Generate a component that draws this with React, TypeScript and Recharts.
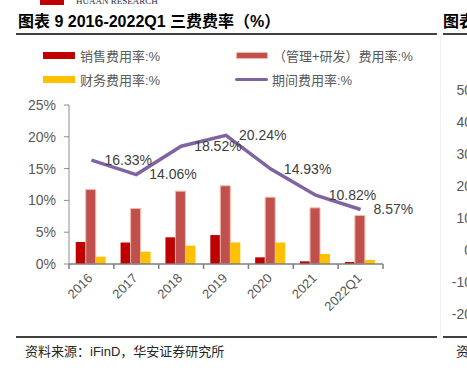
import { ComposedChart, Bar, Line, XAxis, YAxis } from "recharts";

const categories = ["2016", "2017", "2018", "2019", "2020", "2021", "2022Q1"];
// 销售费用率
const salesRate = [3.46, 3.4, 4.2, 4.55, 1.05, 0.42, 0.31];
// （管理+研发）费用率
const mgmtRdRate = [11.7, 8.72, 11.45, 12.3, 10.5, 8.83, 7.62];
// 财务费用率
const financeRate = [1.15, 1.94, 2.87, 3.39, 3.38, 1.57, 0.64];
// 期间费用率
const periodRate = [16.33, 14.06, 18.52, 20.24, 14.93, 10.82, 8.57];

const yTicks = [0, 5, 10, 15, 20, 25];
// 右侧被截断的相邻图表刻度
const sideTicks = ["50", "40", "30", "20", "10", "0", "-10", "-20"];

const FONT = '"Liberation Sans", Arial, "Noto Sans CJK SC", sans-serif';
const GRAY = "#595959";

const rows = categories.map((c, i) => ({
  cat: c,
  sales: salesRate[i],
  mgmt: mgmtRdRate[i],
  fin: financeRate[i],
  period: periodRate[i],
}));

/** X 轴刻度：刻度线在类目边界，文字倾斜 45° */
function XTick(props: any) {
  const { x, y, payload, index, visibleTicksCount } = props;
  const half = payload?.offset ?? 22.4;
  const last = index === visibleTicksCount - 1;
  return (
    <g>
      <line x1={x - half} x2={x - half} y1={y} y2={y + 5} stroke="#7f7f7f" strokeWidth={1.5} />
      {last && <line x1={x + half} x2={x + half} y1={y} y2={y + 5} stroke="#7f7f7f" strokeWidth={1.5} />}
      <text
        transform={`translate(${x + 2},${y + 15}) rotate(-45)`}
        textAnchor="end"
        fontSize={13}
        fill={GRAY}
        fontFamily={FONT}
      >
        {payload.value}
      </text>
    </g>
  );
}

function renderPeriodLabel(p: any) {
  const { x, y, value } = p;
  return (
    <text x={x + 13} y={y} dy="0.35em" fontSize={14} fill="#404040" fontFamily={FONT}>
      {Number(value).toFixed(2)}%
    </text>
  );
}

function LegendItem({ left, top, kind, color, label }: any) {
  return (
    <div style={{ position: "absolute", left, top, height: 14, display: "flex", alignItems: "center" }}>
      {kind === "line" ? (
        <div style={{ width: 33, height: 3, background: color, borderRadius: 2 }} />
      ) : (
        <div
          style={{
            width: 32,
            height: 7,
            background: color,
            boxSizing: "border-box",
            border: kind === "rectStroke" ? "1px solid #F4B9A6" : "none",
          }}
        />
      )}
      <span style={{ marginLeft: kind === "line" ? 4 : 5, fontSize: 13, color: GRAY, fontFamily: FONT, whiteSpace: "nowrap" }}>
        {label}
      </span>
    </div>
  );
}

export default function App() {
  return (
    <div
      style={{
        position: "fixed",
        left: 0,
        top: 0,
        width: 467,
        height: 371,
        overflow: "hidden",
        background: "#fff",
        fontFamily: FONT,
      }}
    >
      {/* 页眉 logo 残留 */}
      <div style={{ position: "absolute", left: 40, top: 0, width: 24, height: 5, background: "#C00000" }} />
      <div
        style={{
          position: "absolute",
          left: 76,
          top: -3,
          fontSize: 9,
          lineHeight: "9px",
          color: "#1f2a44",
          fontFamily: '"Liberation Serif", serif',
          whiteSpace: "nowrap",
        }}
      >
        HUAAN RESEARCH
      </div>

      {/* 标题 */}
      <div
        style={{
          position: "absolute",
          left: 18,
          top: 13,
          fontSize: 16,
          lineHeight: "18px",
          fontWeight: "bold",
          color: "#000",
          whiteSpace: "nowrap",
        }}
      >
        图表 9 2016-2022Q1 三费费率（%）
      </div>
      <div
        style={{
          position: "absolute",
          left: 443,
          top: 13,
          fontSize: 16,
          lineHeight: "18px",
          fontWeight: "bold",
          color: "#000",
          whiteSpace: "nowrap",
        }}
      >
        图表
      </div>
      <div style={{ position: "absolute", left: 16, top: 33, width: 421, height: 1.5, background: "#404040" }} />
      <div style={{ position: "absolute", left: 443, top: 33, width: 24, height: 1.5, background: "#404040" }} />
      <div style={{ position: "absolute", left: 440, top: 36, width: 1, height: 300, background: "#f0f0f0" }} />

      {/* 图例 */}
      <LegendItem left={43} top={48} kind="rect" color="#C00000" label="销售费用率:%" />
      <LegendItem left={236} top={48} kind="rectStroke" color="#C0504D" label="（管理+研发）费用率:%" />
      <LegendItem left={43} top={72} kind="rect" color="#FFC000" label="财务费用率:%" />
      <LegendItem left={235} top={72} kind="line" color="#8064A2" label="期间费用率:%" />

      {/* 右侧相邻图表的刻度 */}
      {sideTicks.map((t, i) => (
        <div
          key={t}
          style={{
            position: "absolute",
            right: -5,
            top: 90 + i * 32 - 8,
            fontSize: 14,
            lineHeight: "16px",
            color: GRAY,
            textAlign: "right",
          }}
        >
          {t}
        </div>
      ))}

      <div style={{ position: "absolute", left: 0, top: 95 }}>
        <ComposedChart
          width={440}
          height={235}
          data={rows}
          margin={{ top: 10, right: 57, bottom: 16, left: 14 }}
          barCategoryGap="15%"
          barGap={0}
        >
          <XAxis
            dataKey="cat"
            height={50}
            interval={0}
            tickLine={false}
            tickSize={0}
            tickMargin={0}
            tick={<XTick />}
            axisLine={{ stroke: "#7f7f7f", strokeWidth: 1.5 }}
          />
          <YAxis
            width={55}
            domain={[0, 25]}
            ticks={yTicks}
            tickFormatter={(v: number) => `${v}%`}
            tickSize={5}
            tickMargin={8}
            axisLine={{ stroke: "#8c8c8c" }}
            tickLine={{ stroke: "#8c8c8c" }}
            tick={{ fontSize: 14, fill: GRAY, fontFamily: FONT }}
          />
          <Bar dataKey="sales" fill="#C00000" isAnimationActive={false} />
          <Bar dataKey="mgmt" fill="#C0504D" stroke="#F4B9A6" strokeWidth={1} isAnimationActive={false} />
          <Bar dataKey="fin" fill="#FFC000" isAnimationActive={false} />
          <Line
            dataKey="period"
            type="linear"
            stroke="#8064A2"
            strokeWidth={3.5}
            dot={false}
            activeDot={false}
            label={renderPeriodLabel}
            isAnimationActive={false}
          />
        </ComposedChart>
      </div>

      {/* 底部来源 */}
      <div style={{ position: "absolute", left: 16, top: 336, width: 421, height: 1.5, background: "#404040" }} />
      <div style={{ position: "absolute", left: 443, top: 336, width: 24, height: 1.5, background: "#404040" }} />
      <div
        style={{
          position: "absolute",
          left: 25,
          top: 344,
          fontSize: 13,
          lineHeight: "16px",
          color: "#262626",
          whiteSpace: "nowrap",
        }}
      >
        资料来源：iFinD，华安证券研究所
      </div>
      <div style={{ position: "absolute", left: 456, top: 344, fontSize: 13, lineHeight: "16px", color: "#262626" }}>
        资
      </div>
    </div>
  );
}
